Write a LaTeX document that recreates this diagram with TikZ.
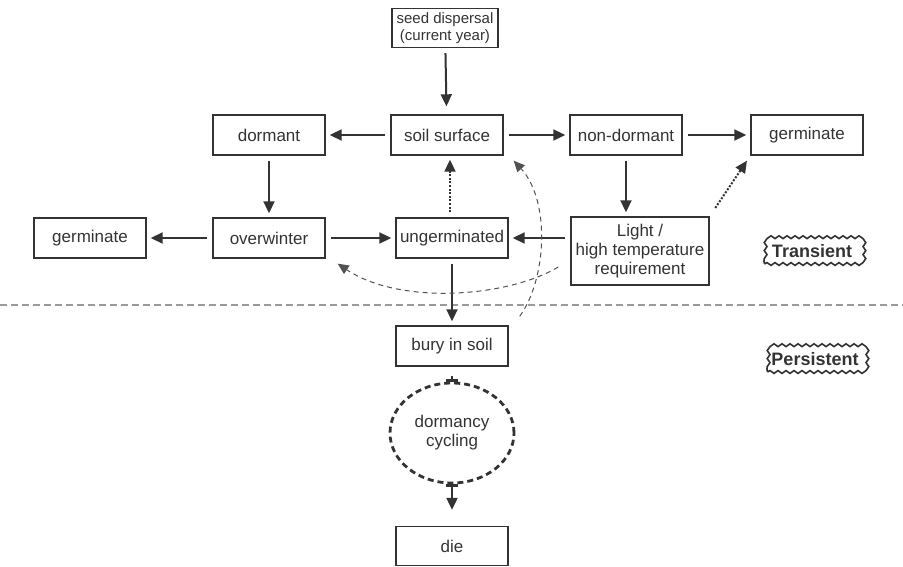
\documentclass[tikz,border=0pt]{standalone}
\usepackage{fontspec}
\setmainfont{Liberation Sans}
\usetikzlibrary{arrows.meta,decorations.pathmorphing,shapes.geometric}
\definecolor{ink}{HTML}{333333}
\definecolor{rulegray}{HTML}{9A9A9A}

\begin{document}
\begin{tikzpicture}[x=1pt,y=-1pt,font=\fontsize{17}{19}\selectfont,
  box/.style={draw=ink,line width=1.4pt,minimum width=112pt,minimum height=40pt,inner sep=2pt,align=center,text=ink},
  flow/.style={draw=ink,line width=2pt,-{Triangle[length=12pt,width=11pt]},shorten <=5pt,shorten >=4pt},
  dotflow/.style={flow,dash pattern=on 2pt off 1.6pt},
  swing/.style={draw=ink!85,line width=1pt,dash pattern=on 5pt off 4pt,-{Triangle[length=11pt,width=10pt]}},
  tee/.style={draw=ink,line width=2.2pt},
  tag/.style={draw=ink,line width=1.6pt,decorate,decoration={snake,segment length=8pt,amplitude=1.4pt},
    minimum width=95pt,minimum height=26pt,inner sep=1pt,font=\fontsize{18}{20}\selectfont\bfseries,text=ink}]
\useasboundingbox (0,0) rectangle (903,567);

\node[box,minimum width=106pt,minimum height=39pt,font=\fontsize{15}{17}\selectfont] (seed) at (445,28) {seed dispersal\\(current year)};
\node[box] (soil) at (447,135) {soil surface};
\node[box] (dorm) at (269,135) {dormant};
\node[box] (nondorm) at (626,135) {non-dormant};
\node[box] (germR) at (807,135) {germinate};
\node[box] (germL) at (90,238) {germinate};
\node[box] (winter) at (269,238) {overwinter};
\node[box] (ungerm) at (452,238) {ungerminated};
\node[box,minimum width=138pt,minimum height=68pt] (light) at (640,251) {Light /\\high temperature\\requirement};
\node[box] (bury) at (452,346) {bury in soil};
\node[ellipse,draw=ink,line width=2.8pt,dash pattern=on 6pt off 4pt,minimum width=124pt,minimum height=100pt,align=center,text=ink] (cycle) at (452,433) {dormancy\\cycling};
\node[box,minimum height=39pt] (die) at (452,546) {die};
\node[tag] (trans) at (812,251) {Transient};
\node[tag] (pers) at (815,359) {Persistent};

\coordinate (ruleL) at (0,305);
\coordinate (ruleR) at (903,305);
\draw[rulegray,line width=1.2pt,dash pattern=on 7pt off 4pt] (ruleL) -- (ruleR);

\draw[flow,shorten >=8pt] (seed) -- (soil);
\draw[flow] (soil) -- (dorm);
\draw[flow] (soil) -- (nondorm);
\draw[flow] (nondorm) -- (germR);
\draw[flow] (dorm) -- (winter);
\draw[flow] (nondorm) -- (nondorm |- light.north);
\draw[flow] (winter) -- (germL);
\draw[flow] (winter) -- (ungerm);
\draw[flow] (light.west |- ungerm) -- (ungerm);
\draw[flow] (ungerm) -- (bury);
\draw[dotflow] ([xshift=-2pt]ungerm.north) -- ([xshift=-2pt]ungerm.north |- soil.south);
\draw[dotflow,shorten <=10pt,shorten >=6pt] (light.north east) -- (germR.south west);

\draw[swing] ([shift={(11pt,9pt)}]bury.north east) .. controls +(27,-37) and +(37,40) .. ([shift={(10pt,-5pt)}]soil.south east);
\draw[swing] ([shift={(-12pt,-16pt)}]light.west) .. controls +(-50,30) and +(63,42) .. ([shift={(12pt,-5pt)}]winter.south east);

\draw[tee,-{Bar[width=12pt]},shorten <=9pt] (bury) -- (cycle);
\draw[tee,{Bar[width=12pt]}-{Triangle[length=12pt,width=11pt]},shorten >=16pt] (cycle) -- (die);
\end{tikzpicture}
\end{document}
